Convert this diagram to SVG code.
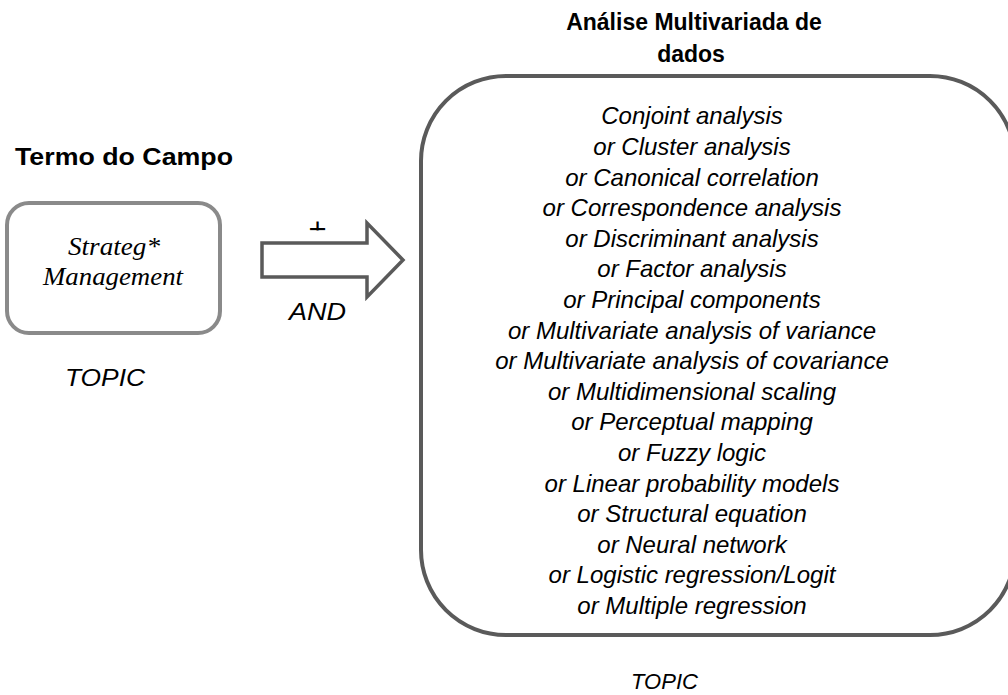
<svg xmlns="http://www.w3.org/2000/svg" width="1008" height="695" viewBox="0 0 1008 695">
  <style>
    .sans { font-family: "Liberation Sans", Arial, sans-serif; fill: #000; }
    .bold { font-weight: bold; }
    .it { font-style: italic; }
    .serif { font-family: "Liberation Serif", "Times New Roman", serif; font-style: italic; fill: #000; }
    .list { font-family: "Liberation Sans", Arial, sans-serif; font-style: italic; font-size: 24px; fill: #000; }
  </style>
  <defs>
    <clipPath id="plusClip"><rect x="290" y="210" width="60" height="20.5"/></clipPath>
  </defs>
  <rect width="1008" height="695" fill="#fff"/>

  <g id="termo">
    <text class="sans bold" x="124" y="165" font-size="24" text-anchor="middle" textLength="218" lengthAdjust="spacingAndGlyphs">Termo do Campo</text>
    <rect x="7" y="203" width="213" height="130" rx="22" ry="22" fill="#fff" stroke="#8a8a8a" stroke-width="4"/>
    <text class="serif" x="114" y="255" font-size="25" text-anchor="middle" textLength="92" lengthAdjust="spacingAndGlyphs">Strateg*</text>
    <text class="serif" x="113" y="285" font-size="25" text-anchor="middle" textLength="140" lengthAdjust="spacingAndGlyphs">Management</text>
    <text class="sans it" x="105" y="386" font-size="24" text-anchor="middle" textLength="80" lengthAdjust="spacingAndGlyphs">TOPIC</text>
  </g>

  <g id="connectors">
    <text class="sans" x="317.5" y="240" font-size="31" text-anchor="middle" clip-path="url(#plusClip)">+</text>
    <polygon points="262,243 367,243 367,223 403,260 367,297 367,277 262,277" fill="#fff" stroke="#5a5a5a" stroke-width="3.5" stroke-linejoin="miter"/>
    <text class="sans it" x="317.5" y="320" font-size="24" text-anchor="middle" textLength="57" lengthAdjust="spacingAndGlyphs">AND</text>
  </g>

  <g id="analise">
    <text class="sans bold" x="694" y="30" font-size="23" text-anchor="middle">Análise Multivariada de</text>
    <text class="sans bold" x="691" y="61.5" font-size="23" text-anchor="middle">dados</text>
    <rect x="421" y="76" width="594" height="559" rx="85" ry="85" fill="#fff" stroke="#5a5a5a" stroke-width="4"/>
    <g class="list" text-anchor="middle">
      <text x="692" y="124.3">Conjoint analysis</text>
      <text x="692" y="154.9">or Cluster analysis</text>
      <text x="692" y="185.5">or Canonical correlation</text>
      <text x="692" y="216.1">or Correspondence analysis</text>
      <text x="692" y="246.7">or Discriminant analysis</text>
      <text x="692" y="277.3">or Factor analysis</text>
      <text x="692" y="307.9">or Principal components</text>
      <text x="692" y="338.5">or Multivariate analysis of variance</text>
      <text x="692" y="369.1">or Multivariate analysis of covariance</text>
      <text x="692" y="399.7">or Multidimensional scaling</text>
      <text x="692" y="430.3">or Perceptual mapping</text>
      <text x="692" y="460.9">or Fuzzy logic</text>
      <text x="692" y="491.5">or Linear probability models</text>
      <text x="692" y="522.1">or Structural equation</text>
      <text x="692" y="552.7">or Neural network</text>
      <text x="692" y="583.3">or Logistic regression/Logit</text>
      <text x="692" y="613.9">or Multiple regression</text>
    </g>
    <text class="sans it" x="664.5" y="689" font-size="22" text-anchor="middle">TOPIC</text>
  </g>
</svg>
